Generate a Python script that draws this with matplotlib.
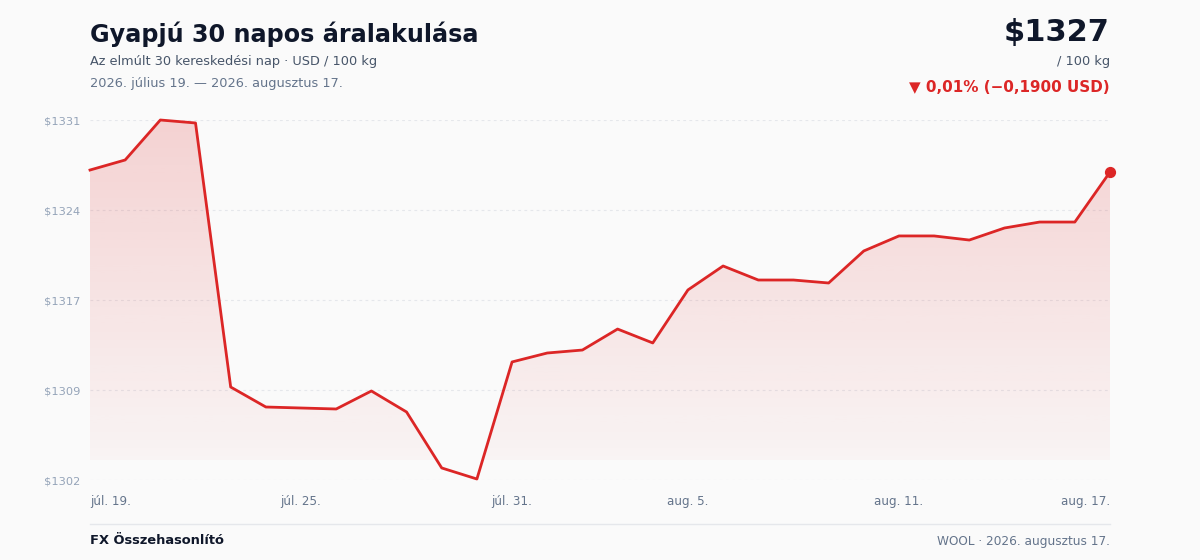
import matplotlib.pyplot as plt
import numpy as np
from matplotlib.patches import Polygon

plt.rcParams["font.family"] = ["DejaVu Sans"]

# 30 napos árfolyam (USD / 100 kg)
prices = [
    1326.97, 1327.78, 1331.00, 1330.76, 1309.49, 1307.88, 1307.80, 1307.72,
    1309.17, 1307.48, 1302.97, 1302.08, 1311.51, 1312.23, 1312.47, 1314.16,
    1313.04, 1317.31, 1319.24, 1318.11, 1318.11, 1317.87, 1320.45, 1321.66,
    1321.66, 1321.33, 1322.30, 1322.78, 1322.78, 1326.81,
]
x_tick_idx = [0, 6, 12, 17, 23, 29]
x_tick_labels = ["júl. 19.", "júl. 25.", "júl. 31.", "aug. 5.", "aug. 11.", "aug. 17."]
y_ticks = [1302, 1309.25, 1316.5, 1323.75, 1331]
y_tick_labels = ["$1302", "$1309", "$1317", "$1324", "$1331"]

RED = "#dc2626"
BG = "#fafafa"

fig = plt.figure(figsize=(12, 5.6), dpi=100, facecolor=BG)
ax = fig.add_axes([0.075, 80 / 560, 0.85, 360 / 560])
ax.set_facecolor(BG)

x = np.arange(len(prices))
ax.set_xlim(0, len(prices) - 1)
ax.set_ylim(1302, 1331)

# színátmenetes kitöltés a vonal alatt
fill_bottom = 1303.6
verts = [(0, fill_bottom)] + list(zip(x, prices)) + [(x[-1], fill_bottom)]
poly = Polygon(verts, closed=True, facecolor="none", edgecolor="none")
ax.add_patch(poly)
grad = np.zeros((256, 1, 4))
grad[:, 0, :3] = np.array([220, 38, 38]) / 255
grad[:, 0, 3] = np.linspace(0.19, 0.03, 256)
im = ax.imshow(grad, aspect="auto", extent=[0, x[-1], fill_bottom, 1331],
               origin="upper", zorder=1)
im.set_clip_path(poly)

ax.plot(x, prices, color=RED, linewidth=2, zorder=3, clip_on=False)
ax.scatter([x[-1]], [prices[-1]], s=50, color=RED, zorder=4, clip_on=False)

for yt in y_ticks:
    ax.axhline(yt, color="#e5e7eb", linewidth=0.8, linestyle=(0, (2.5, 3)), zorder=0)

ax.set_yticks(y_ticks)
ax.set_yticklabels(y_tick_labels)
ax.set_xticks(x_tick_idx)
ax.set_xticklabels(x_tick_labels)
ax.tick_params(axis="y", length=0, pad=7, labelsize=8.2, labelcolor="#94a3b8")
ax.tick_params(axis="x", length=0, pad=11, labelsize=8.6, labelcolor="#64748b")
xl = ax.get_xticklabels()
xl[0].set_ha("left")
xl[-1].set_ha("right")
for s in ax.spines.values():
    s.set_visible(False)

# fejléc
fig.text(90 / 1200, 1 - 34 / 560, "Gyapjú 30 napos áralakulása", fontsize=17.2,
         fontweight="bold", color="#0f172a", va="center")
fig.text(90 / 1200, 1 - 61 / 560, "Az elmúlt 30 kereskedési nap · USD / 100 kg",
         fontsize=9.3, color="#475569", va="center")
fig.text(90 / 1200, 1 - 83 / 560, "2026. július 19. — 2026. augusztus 17.",
         fontsize=9.3, color="#64748b", va="center")
fig.text(1110 / 1200, 1 - 32 / 560, "$1327", fontsize=22, fontweight="bold",
         color="#0f172a", va="center", ha="right")
fig.text(1110 / 1200, 1 - 61 / 560, "/ 100 kg", fontsize=9.3, color="#475569",
         va="center", ha="right")
fig.text(1110 / 1200, 1 - 87 / 560, "▼ 0,01% (−0,1900 USD)", fontsize=10.9,
         fontweight="bold", color=RED, va="center", ha="right")

# lábléc
fig.add_artist(plt.Line2D([90 / 1200, 1110 / 1200], [1 - 524 / 560] * 2,
                          color="#e5e7eb", linewidth=1))
fig.text(90 / 1200, 1 - 541 / 560, "FX Összehasonlító", fontsize=9.4,
         fontweight="bold", color="#0f172a", va="center")
fig.text(1110 / 1200, 1 - 541 / 560, "WOOL · 2026. augusztus 17.", fontsize=8.7,
         color="#64748b", va="center", ha="right")

fig.savefig("out.png", dpi=100, facecolor=BG)
